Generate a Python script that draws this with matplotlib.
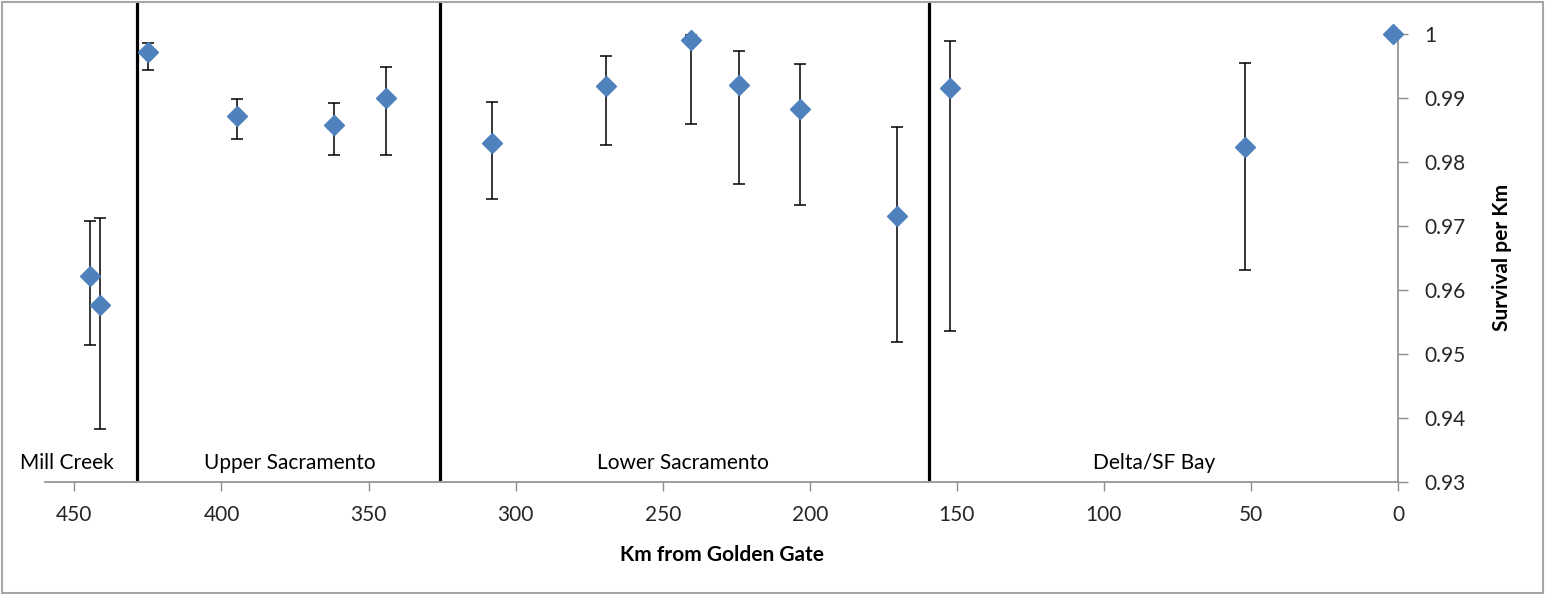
import numpy as np
import matplotlib
matplotlib.use("Agg")
import matplotlib.pyplot as plt
from matplotlib.patches import Rectangle

plt.rcParams['font.family'] = ['Lato', 'DejaVu Sans']

# km from Golden Gate, survival per km and confidence limits
km = [444.6, 441.4, 425.0, 394.7, 361.6, 344.0, 307.9, 269.3, 240.4, 224.0, 203.3, 170.5, 152.3, 51.9, 1.6]
survival = [0.9622, 0.9577, 0.9972, 0.9871, 0.9858, 0.9900, 0.9830, 0.9919, 0.9990,
            0.9920, 0.9882, 0.9715, 0.9916, 0.9823, 1.0]
upper = [0.9708, 0.9713, 0.9986, 0.9899, 0.9892, 0.9948, 0.9894, 0.9965, 0.9999,
         0.9974, 0.9953, 0.9855, 0.9989, 0.9954, np.nan]
lower = [0.9513, 0.9383, 0.9943, 0.9836, 0.9811, 0.9811, 0.9742, 0.9826, 0.9859,
         0.9766, 0.9733, 0.9518, 0.9536, 0.9631, np.nan]

# region boundaries and labels
boundaries = [428.7, 325.8, 159.4]
region_names = ["Mill Creek", "Upper Sacramento", "Lower Sacramento", "Delta/SF Bay"]
region_km = [452.4, 376.6, 243.0, 82.9]

x_ticks = [450, 400, 350, 300, 250, 200, 150, 100, 50, 0]
y_ticks = [0.93, 0.94, 0.95, 0.96, 0.97, 0.98, 0.99, 1.0]

km = np.array(km)
survival = np.array(survival)
upper = np.array(upper)
lower = np.array(lower)
has_err = ~np.isnan(upper)

fig = plt.figure(figsize=(15.46, 5.94), dpi=100)
ax = fig.add_axes([0.0291, 0.1891, 0.8752, 0.7537])

ax.errorbar(km[has_err], survival[has_err],
            yerr=[survival[has_err] - lower[has_err], upper[has_err] - survival[has_err]],
            fmt="none", ecolor="black", elinewidth=1.1, capsize=4, capthick=1.1, zorder=2)
ax.plot(km, survival, linestyle="none", marker="D", markersize=10.5,
        color="#4F81BD", markeredgecolor="#4F81BD", zorder=3, clip_on=False)

for b in boundaries:
    ax.plot([b, b], [0.005, 1.069], color="black", linewidth=2.3,
            transform=ax.get_xaxis_transform(), clip_on=False, zorder=1)

for name, x in zip(region_names, region_km):
    ax.text(x, 0.9329, name, ha="center", va="center", fontsize=15)

ax.set_xlim(460, 0)
ax.set_ylim(0.93, 1.0)
ax.set_xticks(x_ticks)
ax.set_xticklabels([str(v) for v in x_ticks])
ax.set_yticks(y_ticks)
ax.set_yticklabels(["0.93", "0.94", "0.95", "0.96", "0.97", "0.98", "0.99", "1"])

ax.yaxis.tick_right()
ax.spines["top"].set_visible(False)
ax.spines["left"].set_visible(False)
for s in ["bottom", "right"]:
    ax.spines[s].set_color("#8c8c8c")
    ax.spines[s].set_linewidth(1.2)
ax.tick_params(axis="x", direction="out", length=6.5, width=1, color="#8c8c8c",
               pad=10, labelsize=15, labelcolor="#262626")
ax.tick_params(axis="y", direction="out", length=7, width=1, color="#8c8c8c",
               pad=12, labelsize=15, labelcolor="#262626", left=False, right=True)

ax.set_xlabel("Km from Golden Gate", fontsize=15, fontweight="bold")
ax.xaxis.set_label_coords(0.5, -0.141)
ax.set_ylabel("Survival per Km", fontsize=15, fontweight="bold", rotation=90)
ax.yaxis.set_label_position("right")
ax.yaxis.set_label_coords(1.0695, 0.5)

# outer chart border
fig.patches.append(Rectangle((0.001, 0.002), 0.997, 0.995, transform=fig.transFigure,
                             fill=False, edgecolor="#a6a6a6", linewidth=1.5))

fig.savefig("out.png", dpi=100)
